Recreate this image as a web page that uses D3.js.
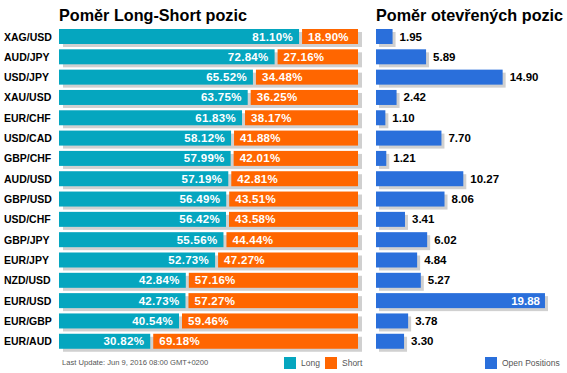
<!DOCTYPE html>
<html>
<head>
<meta charset="utf-8">
<script src="https://cdn.jsdelivr.net/npm/d3@7"></script>
<style>
  body { margin: 0; background: #fff; }
  text { font-family: "Liberation Sans", Arial, sans-serif; }
</style>
</head>
<body>
<div id="chart"></div>
<script>
// Data
const pairs = ["XAG/USD", "AUD/JPY", "USD/JPY", "XAU/USD", "EUR/CHF", "USD/CAD", "GBP/CHF", "AUD/USD",
  "GBP/USD", "USD/CHF", "GBP/JPY", "EUR/JPY", "NZD/USD", "EUR/USD", "EUR/GBP", "EUR/AUD"];
const longPct = [81.10, 72.84, 65.52, 63.75, 61.83, 58.12, 57.99, 57.19, 56.49, 56.42, 55.56, 52.73, 42.84, 42.73, 40.54, 30.82];
const shortPct = [18.90, 27.16, 34.48, 36.25, 38.17, 41.88, 42.01, 42.81, 43.51, 43.58, 44.44, 47.27, 57.16, 57.27, 59.46, 69.18];
const openPos = [1.95, 5.89, 14.90, 2.42, 1.10, 7.70, 1.21, 10.27, 8.06, 3.41, 6.02, 4.84, 5.27, 19.88, 3.78, 3.30];

const W = 567, H = 373;
const colLong = "#05a6bf", colShort = "#ff6600", colOpen = "#2a6fdb", colShadow = "#d0d0d0";

const svg = d3.select("#chart").append("svg")
  .attr("width", W).attr("height", H);

// row scale
const y = d3.scaleBand()
  .domain(pairs)
  .range([29, 349])
  .paddingInner(0.25)
  .paddingOuter(0);
const bh = 15;

// left chart scale (percent)
const xL = d3.scaleLinear().domain([0, 100]).range([59, 355]);
const gap = 3;

// right chart scale
const xR = d3.scaleLinear().domain([0, 20]).range([376, 546]);

// titles
svg.append("text").attr("x", 59).attr("y", 21)
  .attr("font-size", 16.2).attr("font-weight", "bold").attr("fill", "#000")
  .text("Poměr Long-Short pozic");
svg.append("text").attr("x", 376).attr("y", 21)
  .attr("font-size", 16.2).attr("font-weight", "bold").attr("fill", "#000")
  .text("Poměr otevřených pozic");

const rows = pairs.map((p, i) => ({ pair: p, long: longPct[i], short: shortPct[i], open: openPos[i] }));

// pair labels
svg.selectAll(".pair").data(rows).enter().append("text")
  .attr("x", 4).attr("y", d => y(d.pair) + bh / 2 + 4)
  .attr("font-size", 10.5).attr("font-weight", "bold").attr("fill", "#000")
  .text(d => d.pair);

// shadows (left)
svg.selectAll(".shL").data(rows).enter().append("rect")
  .attr("x", xL(0) + 4).attr("y", d => y(d.pair) + 3)
  .attr("width", xL(100) + gap - xL(0)).attr("height", bh)
  .attr("fill", colShadow);

// long bars
svg.selectAll(".long").data(rows).enter().append("rect")
  .attr("x", xL(0)).attr("y", d => y(d.pair))
  .attr("width", d => xL(d.long) - xL(0)).attr("height", bh)
  .attr("fill", colLong);

// short bars
svg.selectAll(".short").data(rows).enter().append("rect")
  .attr("x", d => xL(d.long) + gap).attr("y", d => y(d.pair))
  .attr("width", d => xL(100) - xL(d.long)).attr("height", bh)
  .attr("fill", colShort);

// percent labels
svg.selectAll(".lt").data(rows).enter().append("text")
  .attr("x", d => xL(d.long) - 6).attr("y", d => y(d.pair) + bh / 2 + 4)
  .attr("text-anchor", "end")
  .attr("font-size", 11.5).attr("font-weight", "bold").attr("fill", "#fff")
  .attr("letter-spacing", 0.3)
  .text(d => d.long.toFixed(2) + "%");
svg.selectAll(".st").data(rows).enter().append("text")
  .attr("x", d => xL(d.long) + gap + 6).attr("y", d => y(d.pair) + bh / 2 + 4)
  .attr("font-size", 11.5).attr("font-weight", "bold").attr("fill", "#fff")
  .attr("letter-spacing", 0.3)
  .text(d => d.short.toFixed(2) + "%");

// right chart
svg.selectAll(".shR").data(rows).enter().append("rect")
  .attr("x", xR(0) + 3).attr("y", d => y(d.pair) + 3)
  .attr("width", d => xR(d.open) - xR(0)).attr("height", bh)
  .attr("fill", colShadow);
svg.selectAll(".open").data(rows).enter().append("rect")
  .attr("x", xR(0)).attr("y", d => y(d.pair))
  .attr("width", d => xR(d.open) - xR(0)).attr("height", bh)
  .attr("fill", colOpen);

const inside = d => xR(d.open) - xR(0) > 150;
svg.selectAll(".ot").data(rows).enter().append("text")
  .attr("x", d => inside(d) ? xR(d.open) - 5 : xR(d.open) + 7)
  .attr("y", d => y(d.pair) + bh / 2 + 4)
  .attr("text-anchor", d => inside(d) ? "end" : "start")
  .attr("font-size", 11.5).attr("font-weight", "bold")
  .attr("fill", d => inside(d) ? "#fff" : "#000")
  .text(d => d.open.toFixed(2));

// footer
svg.append("text").attr("x", 62).attr("y", 365)
  .attr("font-size", 7.6).attr("fill", "#555")
  .text("Last Update: Jun 9, 2016 08:00 GMT+0200");

const legend = [
  { label: "Long", color: colLong, x: 284 },
  { label: "Short", color: colShort, x: 325 },
  { label: "Open Positions", color: colOpen, x: 485 }
];
const lg = svg.selectAll(".lg").data(legend).enter().append("g");
lg.append("rect").attr("x", d => d.x).attr("y", 357)
  .attr("width", 12).attr("height", 12).attr("fill", d => d.color);
lg.append("text").attr("x", d => d.x + 17).attr("y", 366)
  .attr("font-size", 8.5).attr("fill", "#555")
  .text(d => d.label);
</script>
</body>
</html>
